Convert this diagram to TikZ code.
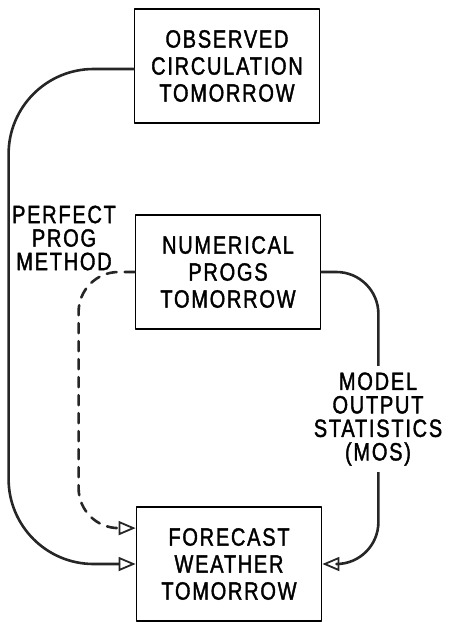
\documentclass[tikz,border=0pt]{standalone}
\usepackage{fontspec}
\setmainfont{Liberation Sans}[FakeStretch=0.8,LetterSpace=7,FakeBold=1.5]
\usetikzlibrary{arrows.meta}
\begin{document}
\begin{tikzpicture}[x=1pt,y=-1pt, font=\fontsize{25}{27}\selectfont, line join=round, line cap=round,
		>={Triangle[open,length=17pt,width=14pt,line width=1.8pt]},
		box/.style={draw,line width=1.8pt,minimum width=185pt,minimum height=114pt,align=center,inner sep=0pt},
		link/.style={line width=2.6pt,draw=black!85},
		lbl/.style={align=center,font=\fontsize{25}{23.5}\selectfont}]
	\useasboundingbox (0,0) rectangle (452,622);
	\node[box] (obs) at (227,66) {OBSERVED\\CIRCULATION\\TOMORROW};
	\node[box] (num) at (228,272) {NUMERICAL\\PROGS\\TOMORROW};
	\node[box] (fcst) at (229,564) {FORECAST\\WEATHER\\TOMORROW};
	% observed circulation straight to the forecast
	\draw[link,->,rounded corners=85pt] ([yshift=-3pt]obs.west) -| ([xshift=-127pt]fcst.west) -- (fcst.west);
	\node[lbl] (pp) at (64,238) {PERFECT\\PROG\\METHOD};
	% progs used as if perfect
	\draw[link,->,dash pattern=on 10pt off 8pt,rounded corners=40pt] (num.west) -| ([xshift=-57pt,yshift=-22pt]fcst.north west) -- ([yshift=-22pt]fcst.north west);
	% mos path, label sits on the line
	\draw[link,->,rounded corners=42pt] (num.east) -| ([xshift=56pt]fcst.east) -- (fcst.east);
	\node[lbl,fill=white,inner sep=6pt] (mos) at (378,419) {MODEL\\OUTPUT\\STATISTICS\\(MOS)};
\end{tikzpicture}
\end{document}
